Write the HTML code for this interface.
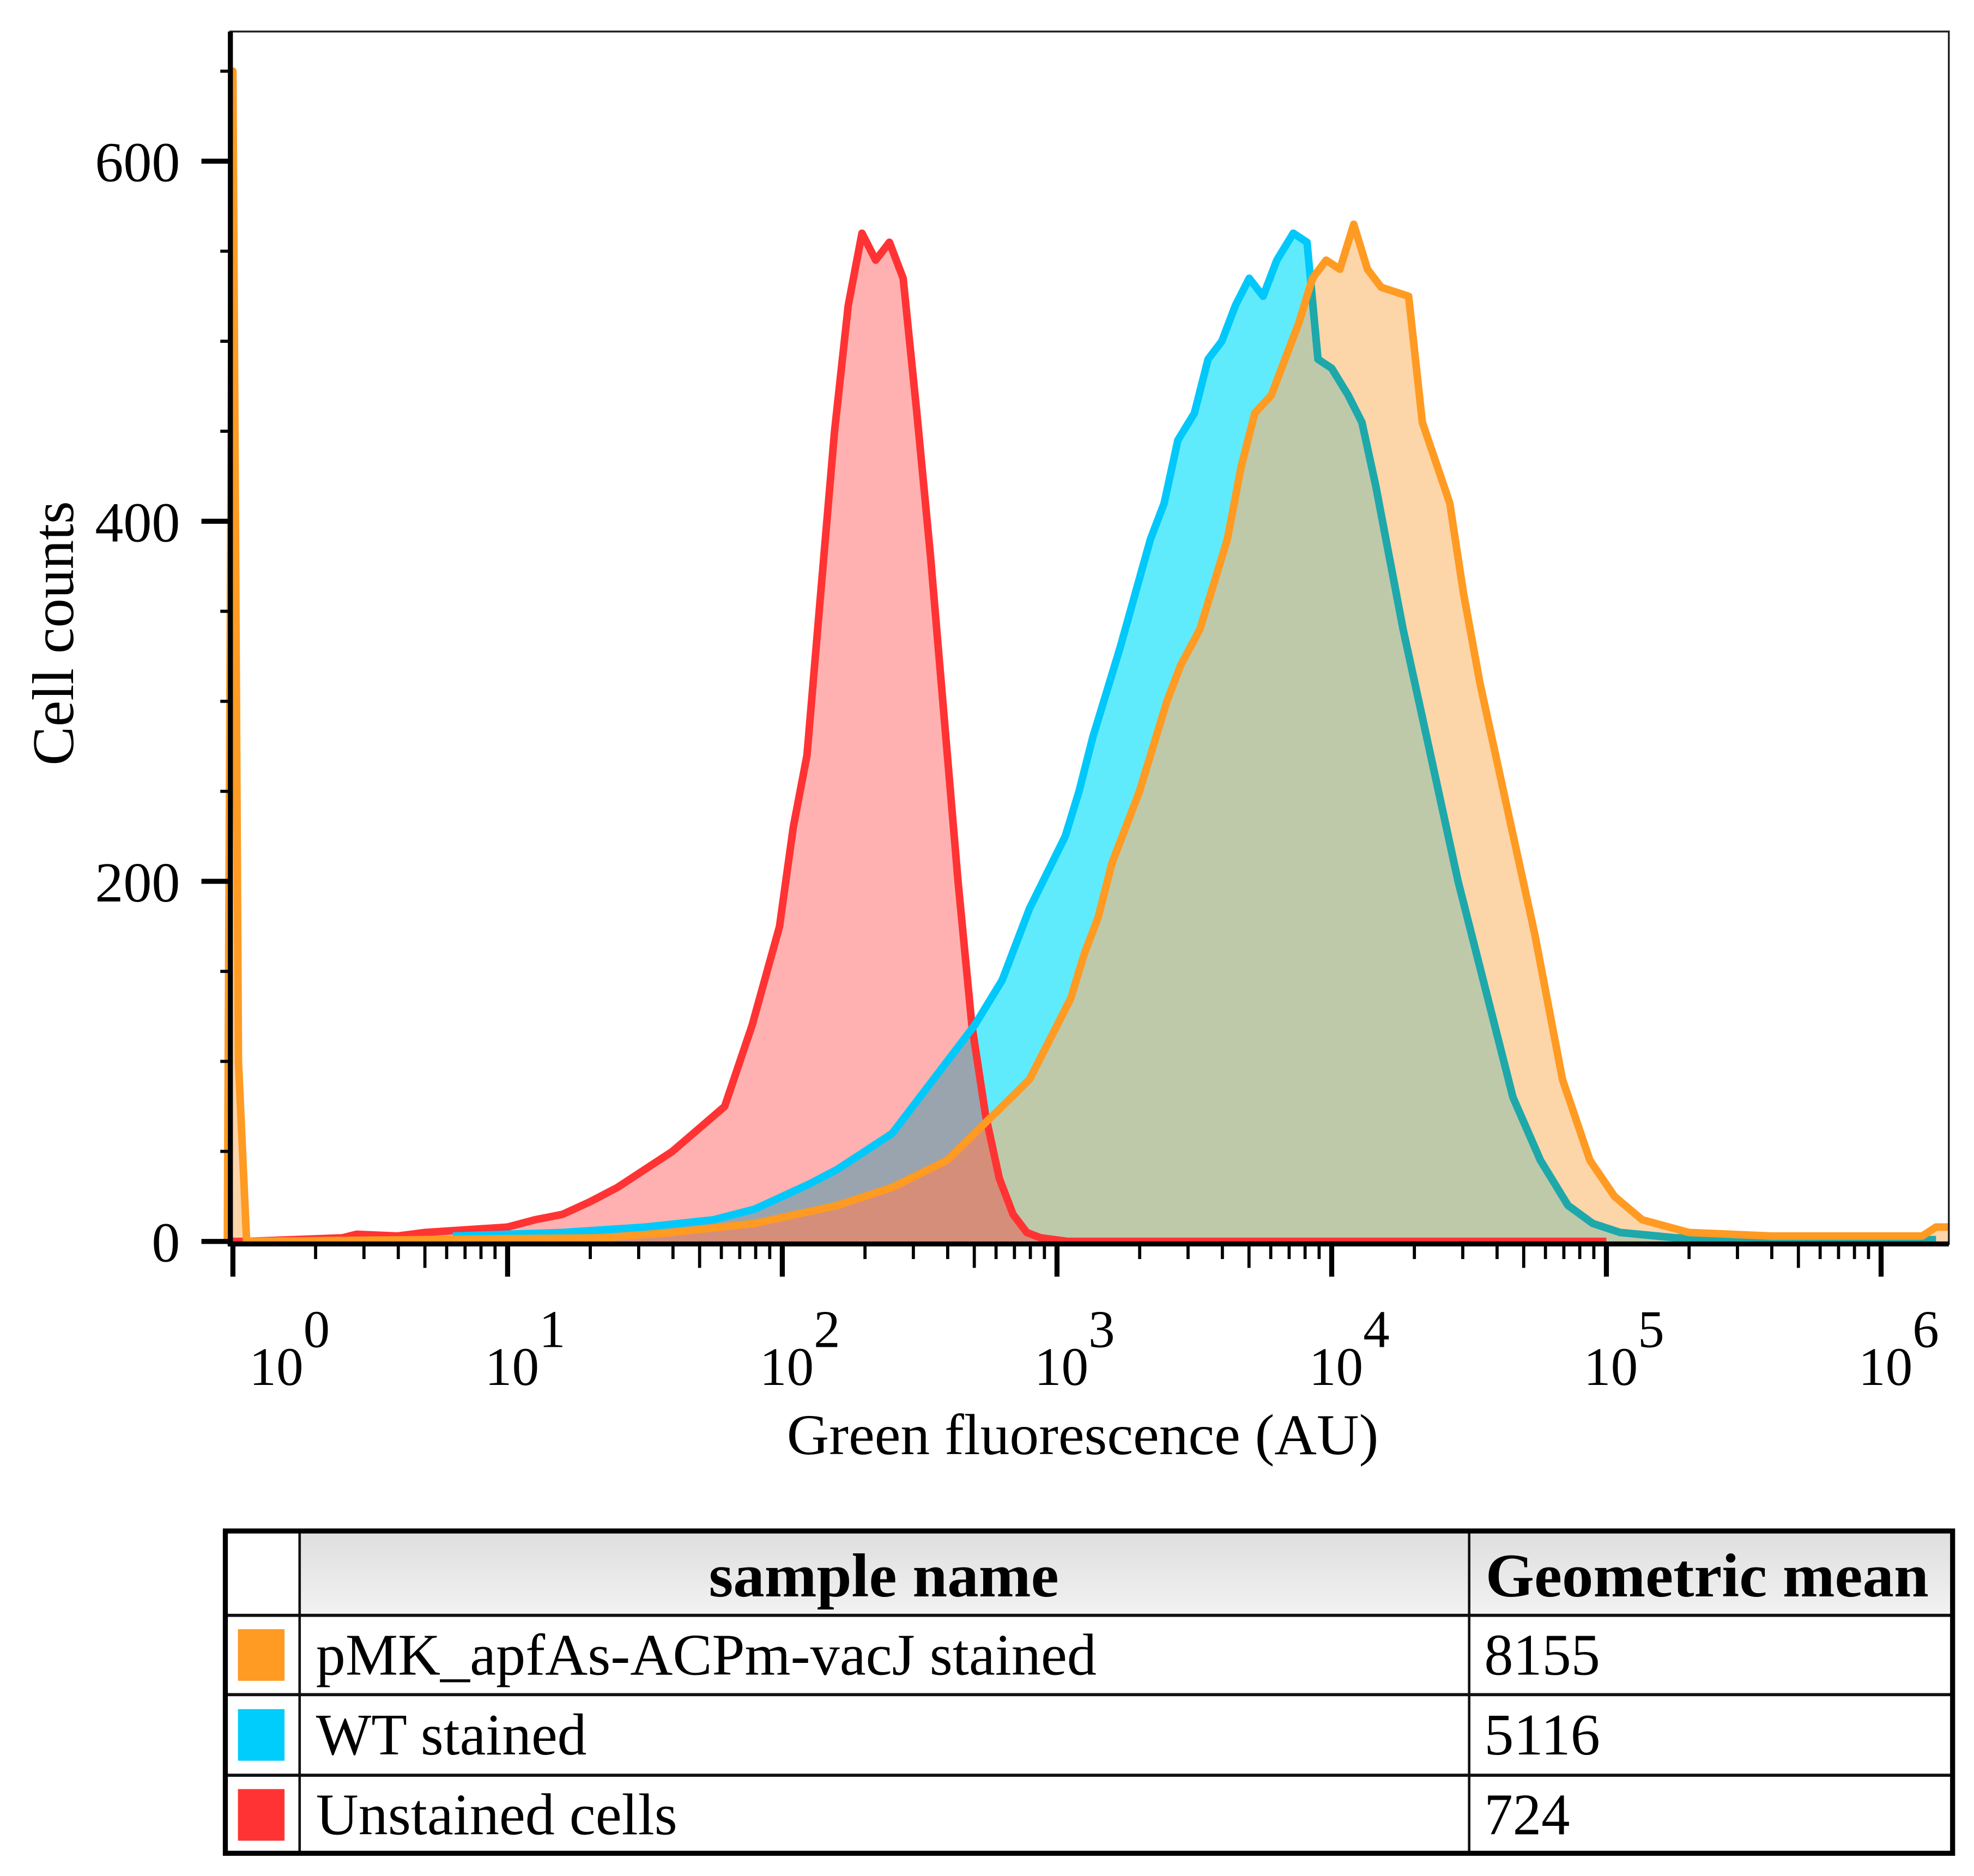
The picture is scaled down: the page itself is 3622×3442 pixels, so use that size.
<!DOCTYPE html>
<html><head><meta charset="utf-8"><style>
html,body{margin:0;padding:0;background:#fff}
svg{display:block}
text{font-family:"Liberation Serif",serif;fill:#000}
</style></head><body>
<svg id="chart" width="3622" height="3442" viewBox="0 0 1568 1490" xmlns="http://www.w3.org/2000/svg">
<defs>
<clipPath id="orangeClip"><path id="orangeClipPath"/></clipPath>
</defs>
<rect x="0" y="0" width="1568" height="1490" fill="#fff"/>
<g id="marks"></g>
<g id="axes"></g>
<g id="table"></g>
</svg>
<script>
// ---- data (x in log10 units of fluorescence, y in cell counts) ----
const redLog   = [-0.02,0.05,0.4,0.45,0.6,0.7,1.0,1.1,1.2,1.3,1.4,1.5,1.6,1.79,1.89,1.99,2.04,2.09,2.14,2.19,2.24,2.29,2.34,2.39,2.44,2.49,2.54,2.59,2.64,2.69,2.74,2.79,2.84,2.89,2.94,3.04,5.0];
const redCount = [0,0,2,4,3,5,8,12,15,22,30,40,50,75,120,175,230,270,360,450,520,560,545,555,535,460,380,290,200,120,70,35,15,5,2,0,0];
const wtLog    = [0.8,1.2,1.5,1.75,1.9,2.0,2.1,2.2,2.3,2.4,2.45,2.55,2.6,2.7,2.8,2.85,2.9,3.03,3.08,3.13,3.18,3.23,3.34,3.39,3.44,3.5,3.55,3.6,3.65,3.7,3.75,3.8,3.86,3.91,3.95,4.0,4.06,4.11,4.16,4.21,4.26,4.36,4.46,4.56,4.66,4.76,4.86,4.95,5.05,5.25,5.6,6.2];
const wtCount  = [3,5,8,12,18,25,32,40,50,60,70,90,100,120,145,165,185,225,250,280,305,330,390,410,445,460,490,500,520,535,525,545,560,555,490,485,470,455,420,380,340,270,200,140,80,45,20,10,5,2,1,1];
const pmkLog   = [-0.02,0.0,0.02,0.05,1.35,1.6,1.9,2.2,2.4,2.6,2.7,2.8,2.9,3.0,3.05,3.1,3.15,3.2,3.3,3.4,3.45,3.52,3.57,3.62,3.67,3.72,3.78,3.83,3.88,3.93,3.98,4.03,4.08,4.13,4.18,4.28,4.33,4.43,4.48,4.54,4.64,4.74,4.84,4.94,5.03,5.13,5.3,5.6,6.15,6.2,6.25];
const pmkCount = [0,650,100,0,2,5,10,20,30,45,60,75,90,120,135,160,180,210,250,300,320,340,365,390,430,460,470,490,510,535,545,540,565,540,530,525,455,410,360,310,240,170,90,45,25,12,5,3,3,8,8];
const yTicks = [0,200,400,600];
const xDecades = [0,1,2,3,4,5,6];
const tableNames = ["pMK_apfAs-ACPm-vacJ stained","WT stained","Unstained cells"];
const tableMeans = ["8155","5116","724"];
const tableColors = ["#ff9a22","#00cdfc","#ff3333"];

// ---- scales ----
const X0 = 185, DEC = 218.2, Y0 = 986, PPU = 286/200;
const xs = l => X0 + DEC*l;
const ys = c => Y0 - c*PPU;
const NS = "http://www.w3.org/2000/svg";
function mk(tag, attrs, parent){ const e=document.createElementNS(NS,tag); for(const k in attrs) e.setAttribute(k,attrs[k]); parent.appendChild(e); return e; }
function linePath(L,C){ return L.map((l,i)=>(i?'L':'M')+xs(l).toFixed(1)+','+ys(C[i]).toFixed(1)).join(''); }
function areaPath(L,C){ return linePath(L,C)+'L'+xs(L[L.length-1]).toFixed(1)+','+Y0+'L'+xs(L[0]).toFixed(1)+','+Y0+'Z'; }

const marks = document.getElementById('marks');
document.getElementById('orangeClipPath').setAttribute('d', areaPath(pmkLog,pmkCount));

let e;
e = mk('path',{d:areaPath(wtLog,wtCount),fill:'#60ebfc'},marks);
 
e = mk('path',{d:areaPath(pmkLog,pmkCount),fill:'#fcd5a8'},marks);
 
e = mk('path',{d:areaPath(wtLog,wtCount),fill:'#bec9aa','clip-path':'url(#orangeClip)'},marks);
 
e = mk('path',{d:areaPath(redLog,redCount),fill:'rgba(255,40,40,0.36)'},marks);
 
e = mk('path',{d:linePath(redLog,redCount),fill:'none',stroke:'#ff3333','stroke-width':6,'stroke-linejoin':'round'},marks);
 
e = mk('path',{d:linePath(wtLog,wtCount),fill:'none',stroke:'#00c8fa','stroke-width':6,'stroke-linejoin':'round'},marks);
 
e = mk('path',{d:linePath(wtLog,wtCount),fill:'none',stroke:'#1ea8aa','stroke-width':6,'stroke-linejoin':'round','clip-path':'url(#orangeClip)'},marks);
 
e = mk('path',{d:linePath(pmkLog,pmkCount),fill:'none',stroke:'#ff9a22','stroke-width':6,'stroke-linejoin':'round'},marks);
 

// ---- axes ----
const axes = document.getElementById('axes');
e = mk('rect',{x:183,y:25,width:1365,height:963,fill:'none',stroke:'#222','stroke-width':1.5},axes);
 
e = mk('line',{x1:183,y1:25,x2:183,y2:990,stroke:'#000','stroke-width':4},axes);
 
e = mk('line',{x1:181,y1:988,x2:1548,y2:988,stroke:'#000','stroke-width':4},axes);
 
for(let c=0;c<=650;c+=50){
  const major = yTicks.includes(c);
  e = mk('line',{x1:major?160:175,y1:ys(c),x2:183,y2:ys(c),stroke:'#000','stroke-width':major?4:2.5},axes);
   
}
yTicks.forEach(v=>{
  e = mk('text',{x:143,y:ys(v)+16,'font-size':45,'text-anchor':'end'},axes);
  e.textContent = String(v);
   
});
e = mk('text',{x:58,y:503,'font-size':47,'text-anchor':'middle',transform:'rotate(-90 58 503)',textLength:210,lengthAdjust:'spacingAndGlyphs'},axes);
e.textContent='Cell counts';
 
xDecades.forEach(d=>{
  e = mk('line',{x1:xs(d),y1:988,x2:xs(d),y2:1014,stroke:'#000','stroke-width':4},axes);
   
  if(d<6){ for(let m=2;m<=9;m++){ const lx=d+Math.log10(m); if(lx>6.25) break;
    e = mk('line',{x1:xs(lx),y1:988,x2:xs(lx),y2:m===5?1007:1000,stroke:'#000','stroke-width':2.5},axes);
      } }
  const g = mk('text',{x:d===0?198:xs(d)-18,y:1100,'font-size':43},axes);
   
  const t1 = mk('tspan',{},g); t1.textContent='10';
  const t2 = mk('tspan',{dy:-30,'font-size':42},g); t2.textContent=String(d);
});
e = mk('text',{x:860,y:1155,'font-size':46,'text-anchor':'middle',textLength:470,lengthAdjust:'spacingAndGlyphs'},axes);
e.textContent='Green fluorescence (AU)';
 

// ---- table ----
const tb = document.getElementById('table');
const grad = mk('linearGradient',{id:'hdr',x1:0,y1:0,x2:0,y2:1},document.querySelector('defs'));
mk('stop',{offset:0,'stop-color':'#dedede'},grad); mk('stop',{offset:1,'stop-color':'#f2f2f2'},grad);
e = mk('rect',{x:238,y:1216,width:1313,height:67,fill:'url(#hdr)'},tb);
 
[1283,1346,1410].forEach(y=>{ e=mk('line',{x1:179,y1:y,x2:1551,y2:y,stroke:'#111','stroke-width':2.5},tb);
    });
[238,1167].forEach(x=>{ e=mk('line',{x1:x,y1:1216,x2:x,y2:1472,stroke:'#111','stroke-width':2},tb);
    });
e = mk('rect',{x:179,y:1216,width:1372,height:256,fill:'none',stroke:'#000','stroke-width':4},tb);
 
e = mk('text',{x:702,y:1268,'font-size':49,'font-weight':'bold','text-anchor':'middle',textLength:278,lengthAdjust:'spacingAndGlyphs'},tb);
e.textContent='sample name';
 
e = mk('text',{x:1180,y:1268,'font-size':49,'font-weight':'bold',textLength:352,lengthAdjust:'spacingAndGlyphs'},tb);
e.textContent='Geometric mean';
 
const nameW=[620,215,287], meanW=[92,92,68];
tableNames.forEach((n,i)=>{
  const top = 1283 + i*63.5;
  e = mk('rect',{x:189,y:top+11,width:37,height:41,fill:tableColors[i]},tb);
   
  e = mk('text',{x:251,y:top+47,'font-size':47,textLength:nameW[i],lengthAdjust:'spacingAndGlyphs'},tb);
  e.textContent=n;
   
  e = mk('text',{x:1179,y:top+47,'font-size':47,textLength:meanW[i],lengthAdjust:'spacingAndGlyphs'},tb);
  e.textContent=tableMeans[i];
   
});
</script>
</body></html>
